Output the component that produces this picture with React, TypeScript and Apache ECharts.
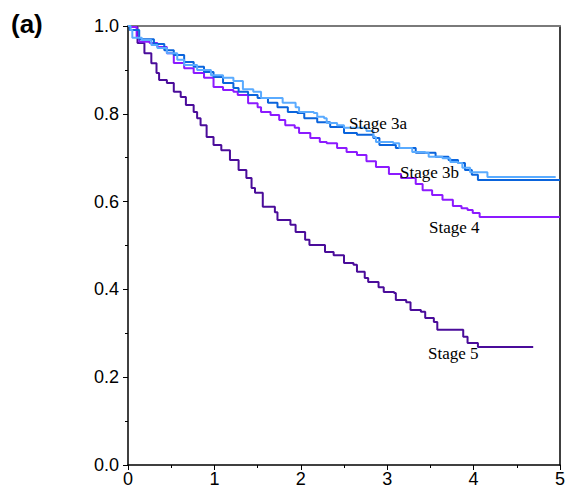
import React, { useEffect, useRef } from "react";
import * as echarts from "echarts";

// Kaplan-Meier style survival curves: [years, survival]
const stage3a: [number, number][] = [
  [0, 1.0], [0.03, 0.991], [0.05, 0.973], [0.16, 0.968], [0.27, 0.957], [0.34, 0.95],
  [0.45, 0.938], [0.57, 0.923], [0.65, 0.911], [0.8, 0.9], [0.96, 0.888], [1.1, 0.882],
  [1.22, 0.875], [1.33, 0.856], [1.45, 0.85], [1.54, 0.836], [1.75, 0.836], [1.79, 0.825],
  [1.94, 0.815], [1.98, 0.804], [2.15, 0.802], [2.19, 0.793], [2.27, 0.79], [2.3, 0.779],
  [2.42, 0.774], [2.5, 0.768], [2.61, 0.768], [2.76, 0.761], [2.84, 0.747], [2.87, 0.736],
  [3.07, 0.733], [3.14, 0.722], [3.29, 0.713], [3.44, 0.711], [3.48, 0.702], [3.64, 0.699],
  [3.73, 0.69], [3.82, 0.688], [3.87, 0.677], [3.96, 0.667], [4.15, 0.667], [4.16, 0.656],
  [4.95, 0.656],
];

const stage3b: [number, number][] = [
  [0, 1.0], [0.02, 0.991], [0.13, 0.97], [0.3, 0.959], [0.42, 0.945], [0.53, 0.934],
  [0.65, 0.918], [0.76, 0.907], [0.88, 0.895], [0.99, 0.884], [1.1, 0.87], [1.22, 0.859],
  [1.28, 0.85], [1.39, 0.843], [1.5, 0.836], [1.62, 0.825], [1.73, 0.815], [1.85, 0.804],
  [1.96, 0.802], [2.04, 0.79], [2.19, 0.781], [2.34, 0.77], [2.5, 0.756], [2.65, 0.752],
  [2.84, 0.745], [2.91, 0.729], [3.1, 0.722], [3.33, 0.711], [3.56, 0.702], [3.71, 0.695],
  [3.82, 0.688], [3.9, 0.672], [3.98, 0.661], [4.05, 0.649], [5.0, 0.649],
];

const stage4: [number, number][] = [
  [0, 1.0], [0.02, 0.998], [0.1, 0.975], [0.13, 0.964], [0.25, 0.961], [0.34, 0.952],
  [0.45, 0.938], [0.53, 0.916], [0.65, 0.904], [0.76, 0.893], [0.88, 0.882], [0.99, 0.861],
  [1.1, 0.854], [1.22, 0.85], [1.27, 0.843], [1.39, 0.824], [1.5, 0.815], [1.54, 0.804],
  [1.65, 0.797], [1.75, 0.786], [1.82, 0.774], [1.93, 0.768], [1.98, 0.756], [2.11, 0.745],
  [2.22, 0.736], [2.3, 0.733], [2.42, 0.722], [2.53, 0.713], [2.65, 0.706], [2.76, 0.692],
  [2.87, 0.679], [3.02, 0.663], [3.16, 0.654], [3.33, 0.64], [3.41, 0.626], [3.52, 0.615],
  [3.64, 0.604], [3.76, 0.59], [3.86, 0.585], [3.93, 0.581], [3.99, 0.574], [4.07, 0.565],
  [5.0, 0.565],
];

const stage5: [number, number][] = [
  [0, 1.0], [0.02, 0.998], [0.11, 0.961], [0.19, 0.938], [0.27, 0.915], [0.33, 0.893],
  [0.36, 0.877], [0.45, 0.87], [0.53, 0.85], [0.61, 0.838], [0.67, 0.82], [0.76, 0.804],
  [0.8, 0.79], [0.84, 0.774], [0.91, 0.747], [0.99, 0.729], [1.08, 0.717], [1.18, 0.695],
  [1.28, 0.672], [1.37, 0.654], [1.43, 0.631], [1.47, 0.62], [1.56, 0.588], [1.7, 0.576],
  [1.73, 0.558], [1.88, 0.547], [1.94, 0.531], [2.05, 0.513], [2.1, 0.501], [2.21, 0.501],
  [2.28, 0.485], [2.38, 0.478], [2.5, 0.46], [2.61, 0.456], [2.65, 0.44], [2.74, 0.426],
  [2.78, 0.417], [2.9, 0.405], [2.96, 0.394], [3.08, 0.392], [3.1, 0.376], [3.22, 0.371],
  [3.27, 0.353], [3.39, 0.349], [3.44, 0.335], [3.54, 0.326], [3.58, 0.308], [3.87, 0.308],
  [3.88, 0.292], [3.93, 0.278], [4.05, 0.278], [4.05, 0.269], [4.69, 0.269],
];

const seriesNames = ["Stage 3a", "Stage 3b", "Stage 4", "Stage 5"];
const seriesColors = ["#5aabff", "#0a64dc", "#8c1aff", "#4a0c9a"];
const xTicks = [0, 1, 2, 3, 4, 5];
const yTicks = [0, 0.2, 0.4, 0.6, 0.8, 1.0];
const panelLabel = "(a)";

export default function App() {
  const ref = useRef<HTMLDivElement>(null);
  useEffect(() => {
    if (!ref.current) return;
    const chart = echarts.init(ref.current, undefined, { renderer: "svg" });
    const allData = [stage3a, stage3b, stage4, stage5];
    const labelFont = "'Liberation Serif', 'DejaVu Serif', serif";
    const tickFont = "'Liberation Sans', Arial, sans-serif";
    const gridLeft = 128, gridTop = 26, gridRight = 2, gridBottom = 25;
    chart.setOption({
      animation: false,
      backgroundColor: "#ffffff",
      grid: { left: gridLeft, top: gridTop, right: gridRight, bottom: gridBottom, containLabel: false },
      xAxis: [
        {
          type: "value",
          min: xTicks[0],
          max: xTicks[xTicks.length - 1],
          interval: 1,
          position: "bottom",
          axisLine: { show: true, lineStyle: { color: "#000", width: 1.5 } },
          axisTick: { show: true, inside: false, length: 5, lineStyle: { color: "#000" } },
          minorTick: { show: true, splitNumber: 2, length: 3, lineStyle: { color: "#000" } },
          splitLine: { show: false },
          axisLabel: {
            color: "#000",
            fontSize: 18,
            fontFamily: tickFont,
            margin: 5,
            formatter: (v: number) => String(v),
          },
        },
        {
          type: "value",
          min: 0,
          max: 5,
          position: "top",
          axisLine: { show: true, onZero: false, lineStyle: { color: "#7a7a7a", width: 2 } },
          axisTick: { show: false },
          axisLabel: { show: false },
          splitLine: { show: false },
        },
      ],
      yAxis: [
        {
          type: "value",
          min: yTicks[0],
          max: yTicks[yTicks.length - 1],
          interval: 0.2,
          position: "left",
          axisLine: { show: true, lineStyle: { color: "#000", width: 1.5 } },
          axisTick: { show: true, inside: false, length: 5, lineStyle: { color: "#000" } },
          minorTick: { show: true, splitNumber: 2, length: 3, lineStyle: { color: "#000" } },
          splitLine: { show: false },
          axisLabel: {
            color: "#000",
            fontSize: 18,
            fontFamily: tickFont,
            margin: 9,
            formatter: (v: number) => v.toFixed(1),
          },
        },
        {
          type: "value",
          min: 0,
          max: 1,
          position: "right",
          axisLine: { show: true, onZero: false, lineStyle: { color: "#000", width: 1.5 } },
          axisTick: { show: false },
          axisLabel: { show: false },
          splitLine: { show: false },
        },
      ],
      series: allData.map((d, i) => ({
        name: seriesNames[i],
        type: "line",
        step: "end",
        data: d,
        xAxisIndex: 0,
        yAxisIndex: 0,
        showSymbol: false,
        symbol: "none",
        lineStyle: { color: seriesColors[i], width: 2 },
        z: 10 - i,
      })),
      graphic: [
        {
          type: "text",
          left: 11,
          top: 11,
          style: { text: panelLabel, fontSize: 26, fontWeight: "bold", fontFamily: tickFont, fill: "#000" },
        },
        {
          type: "text",
          x: 349,
          y: 123,
          style: { text: seriesNames[0], fontSize: 17, fontFamily: labelFont, fill: "#000", verticalAlign: "middle" },
          z: 100,
        },
        {
          type: "text",
          x: 400,
          y: 172,
          style: { text: seriesNames[1], fontSize: 17, fontFamily: labelFont, fill: "#000", verticalAlign: "middle" },
          z: 100,
        },
        {
          type: "text",
          x: 429,
          y: 227,
          style: { text: seriesNames[2], fontSize: 17, fontFamily: labelFont, fill: "#000", verticalAlign: "middle" },
          z: 100,
        },
        {
          type: "text",
          x: 428,
          y: 353,
          style: { text: seriesNames[3], fontSize: 17, fontFamily: labelFont, fill: "#000", verticalAlign: "middle" },
          z: 100,
        },
      ],
    });
    return () => chart.dispose();
  }, []);
  return (
    <div
      ref={ref}
      style={{ position: "absolute", left: 0, top: 0, width: 568, height: 490, background: "#fff" }}
    />
  );
}
